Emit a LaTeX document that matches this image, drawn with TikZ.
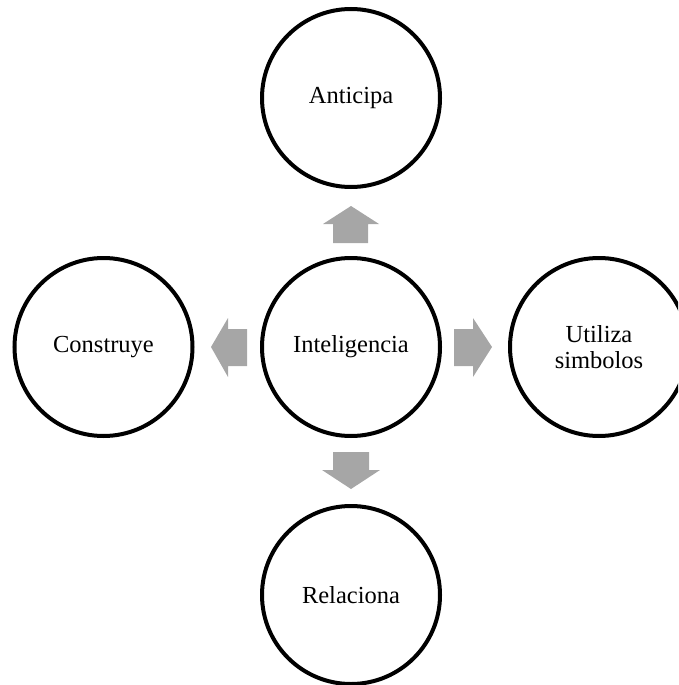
\documentclass[tikz,border=0pt]{standalone}
\usepackage{fontspec}
\setmainfont{Liberation Serif}
\definecolor{arrowgray}{HTML}{A6A6A6}
\tikzset{
  bubble/.style={circle, draw=black, line width=4pt, minimum size=178pt, inner sep=0pt,
    align=center, font=\fontsize{24.5}{25.5}\selectfont},
  blockarrow/.style={fill=arrowgray, draw=none}
}
\begin{document}
\begin{tikzpicture}[x=1pt, y=-1pt]
\useasboundingbox (0,0) rectangle (678,685);
\clip (0,0) rectangle (678,685);
\node[bubble] (c) at (351,347) {Inteligencia};
\node[bubble] (t) at (351,98) {Anticipa};
\node[bubble] (l) at (103.5,347) {Construye};
\node[bubble] (r) at (599,347) {Utiliza\\simbolos};
\node[bubble] (b) at (351,595) {Relaciona};
% up arrow
\fill[blockarrow] (333,243) -- (333,224) -- (323,224) -- (351,206) -- (379,224) -- (368,224) -- (368,243) -- cycle;
% left arrow
\fill[blockarrow] (247,329) -- (228,329) -- (228,318) -- (211,347) -- (228,377) -- (228,366) -- (247,366) -- cycle;
% right arrow
\fill[blockarrow] (454,329) -- (473,329) -- (473,318) -- (492,347) -- (473,377) -- (473,366) -- (454,366) -- cycle;
% down arrow
\fill[blockarrow] (333,452) -- (369,452) -- (369,470) -- (380,470) -- (351,489) -- (322,470) -- (333,470) -- cycle;
\end{tikzpicture}
\end{document}
